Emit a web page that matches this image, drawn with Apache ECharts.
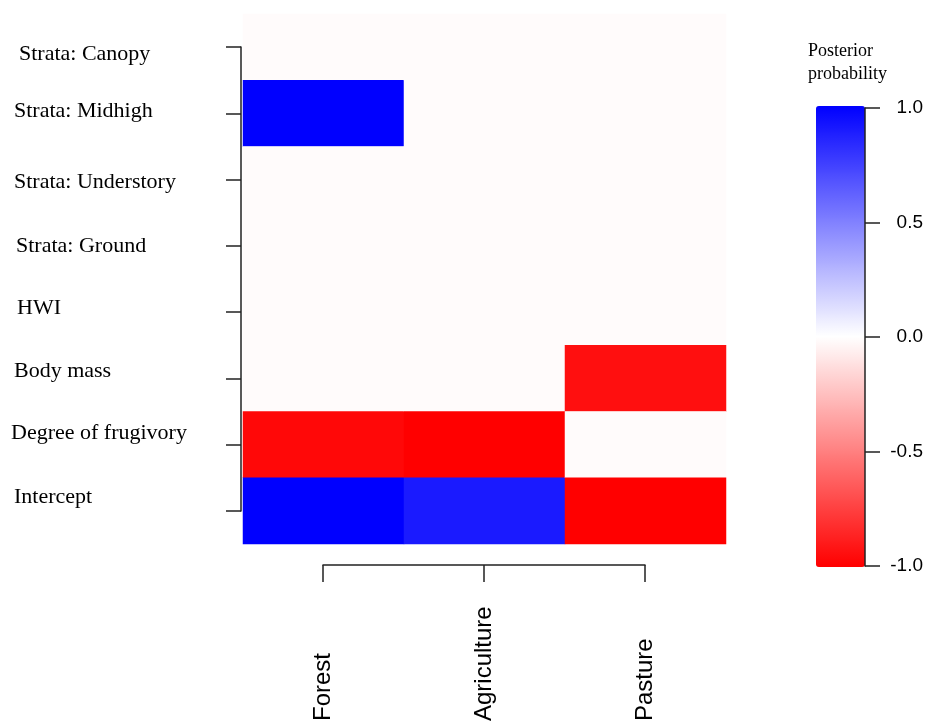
<!DOCTYPE html>
<html>
<head>
<meta charset="utf-8">
<script src="https://cdn.jsdelivr.net/npm/echarts@6/dist/echarts.min.js"></script>
<style>html,body{margin:0;padding:0;background:#fff;}#c{width:928px;height:722px;}</style>
</head>
<body>
<div id="c"></div>
<script>
// ---- data ----
const habitats = ['Forest', 'Agriculture', 'Pasture'];
const predictors = ['Strata: Canopy', 'Strata: Midhigh', 'Strata: Understory', 'Strata: Ground', 'HWI', 'Body mass', 'Degree of frugivory', 'Intercept'];
const forestVals      = [-0.015, 1.0, -0.015, -0.015, -0.015, -0.015, -0.97, 1.0];
const agricultureVals = [-0.015, -0.015, -0.015, -0.015, -0.015, -0.015, -1.0, 0.9];
const pastureVals     = [-0.015, -0.015, -0.015, -0.015, -0.015, -0.94, -0.015, -1.0];
const scaleMin = -1, scaleMax = 1, scaleStep = 0.5;
const legendTitle = 'Posterior\nprobability';

// ---- build ----
const columns = [forestVals, agricultureVals, pastureVals];
const heatData = [];
columns.forEach((col, xi) => col.forEach((v, yi) => heatData.push([xi, yi, v])));

// label fine-placement (style only)
const labelDy = [7, -2, 3, 0, -4, -7, -11, -14];
const labelDx = [5, 0, 0, 2, 3, 0, -3, 0];
const baseDx = 3;
const rich = {};
labelDy.forEach((dy, i) => {
  rich['l' + i] = {
    fontFamily: 'Liberation Serif', fontSize: 22, color: '#000',
    padding: [dy > 0 ? 2 * dy : 0, 0, dy < 0 ? -2 * dy : 0, labelDx[i] + baseDx]
  };
});
const axisColor = '#222';

const chart = echarts.init(document.getElementById('c'), null, {renderer: 'canvas'});
chart.setOption({
  backgroundColor: '#fff',
  animation: false,
  title: {
    text: legendTitle, left: 808, top: 40, padding: 0,
    textStyle: {fontFamily: 'Liberation Serif', fontSize: 18, fontWeight: 'normal', color: '#000', lineHeight: 23}
  },
  grid: [
    {left: 243, width: 483, top: 14, height: 530, containLabel: false, outerBoundsMode: 'none'},
    {left: 323, width: 322, top: 47, height: 464, containLabel: false, outerBoundsMode: 'none'},
    {left: 815, width: 50, top: 108, height: 458, containLabel: false, outerBoundsMode: 'none'}
  ],
  xAxis: [
    {gridIndex: 0, type: 'category', data: habitats, show: false},
    {gridIndex: 1, type: 'category', data: habitats, boundaryGap: false, position: 'bottom', offset: 54,
     axisLine: {show: true, onZero: false, lineStyle: {color: axisColor, width: 1.5}},
     axisTick: {show: true, length: 17, inside: false, lineStyle: {color: axisColor, width: 1.5}},
     axisLabel: {rotate: 90, align: 'left', verticalAlign: 'middle', margin: 156, fontFamily: 'Liberation Sans', fontSize: 24, color: '#000', interval: 0},
     splitLine: {show: false}},
    {gridIndex: 2, type: 'category', data: ['x'], show: false}
  ],
  yAxis: [
    {gridIndex: 0, type: 'category', data: predictors, inverse: true, show: false},
    {gridIndex: 1, type: 'category', data: predictors, inverse: true, boundaryGap: false, position: 'left', offset: 82,
     axisLine: {show: true, onZero: false, lineStyle: {color: axisColor, width: 1.5}},
     axisTick: {show: true, length: 15, inside: false, lineStyle: {color: axisColor, width: 1.5}},
     axisLabel: {align: 'left', margin: 230, interval: 0,
       formatter: (v, i) => '{l' + i + '|' + v + '}', rich: rich},
     splitLine: {show: false}},
    {gridIndex: 2, type: 'value', min: scaleMin, max: scaleMax, interval: scaleStep, position: 'right',
     axisLine: {show: true, onZero: false, lineStyle: {color: axisColor, width: 1.5}},
     axisTick: {show: true, length: 15, inside: false, lineStyle: {color: axisColor, width: 1.5}},
     axisLabel: {align: 'right', margin: 58, fontFamily: 'Liberation Sans', fontSize: 19, color: '#000',
       formatter: v => v.toFixed(1)},
     splitLine: {show: false}, z: 10}
  ],
  visualMap: {
    type: 'continuous', min: scaleMin, max: scaleMax, seriesIndex: 0,
    left: 816, top: 106, itemWidth: 49, itemHeight: 461, padding: 0,
    calculable: false, hoverLink: false, text: null, showLabel: false, z: 1,
    inRange: {color: ['#ff0000', '#ffffff', '#0000ff']}
  },
  series: [{
    type: 'heatmap', xAxisIndex: 0, yAxisIndex: 0, data: heatData,
    itemStyle: {borderWidth: 0},
    emphasis: {disabled: true}
  }]
});
</script>
</body>
</html>
